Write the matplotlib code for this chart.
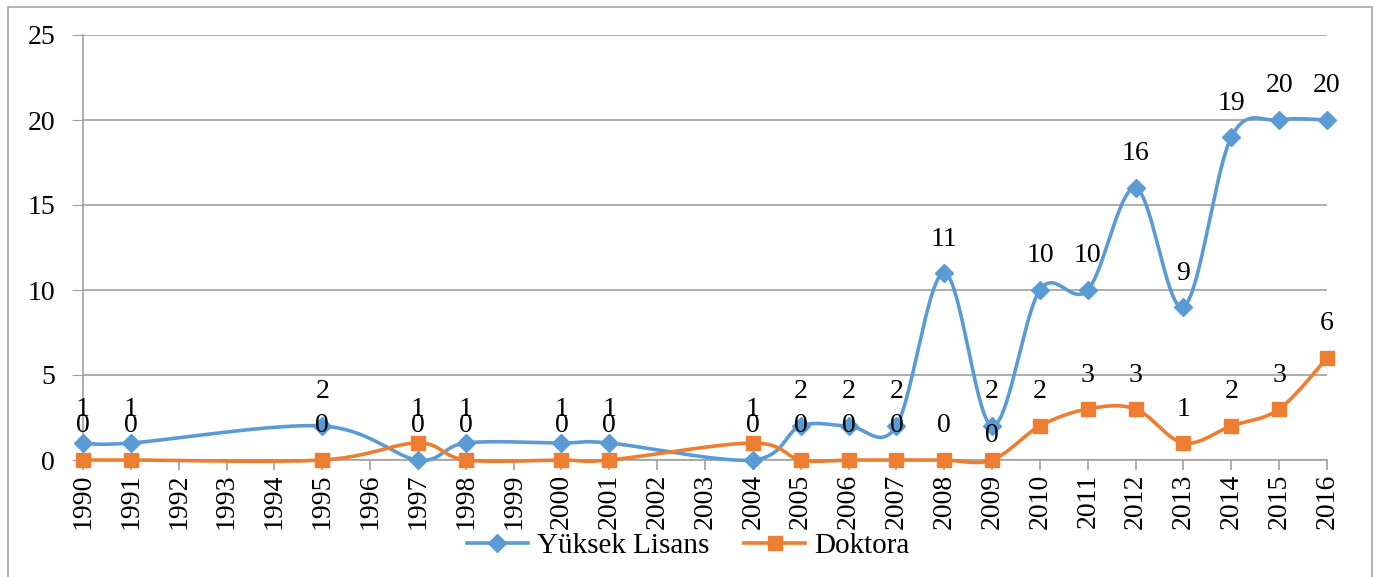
import numpy as np
import matplotlib
matplotlib.use("Agg")
import matplotlib.pyplot as plt
from matplotlib.patches import Rectangle
from matplotlib.lines import Line2D

years = [str(y) for y in range(1990, 2017)]
yuksek_lisans = [1, 1, None, None, None, 2, None, 0, 1, None, 1, 1, None, None, 0,
                 2, 2, 2, 11, 2, 10, 10, 16, 9, 19, 20, 20]
doktora = [0, 0, None, None, None, 0, None, 1, 0, None, 0, 0, None, None, 1,
           0, 0, 0, 0, 0, 2, 3, 3, 1, 2, 3, 6]
series_names = ["Yüksek Lisans", "Doktora"]
colors = ["#5B9BD5", "#ED7D31"]
markers = ["D", "s"]

plt.rcParams['font.family'] = ['Liberation Serif', 'DejaVu Serif']
FS = 20

W, H = 1375, 577
fig = plt.figure(figsize=(W / 100, H / 100), dpi=100)
fig.patches.append(Rectangle((8 / W, -0.02), (1372 - 8) / W, 1.02 - 7 / H,
                             transform=fig.transFigure, fill=False,
                             edgecolor="#A6A6A6", linewidth=1.2))
ax = fig.add_axes([83 / W, 1 - 460 / H, (1327 - 83) / W, (460 - 35) / H])


def smooth(xs, ys, n=40):
    pts = np.column_stack([xs, ys]).astype(float)
    m = len(pts)
    out = []
    for i in range(m - 1):
        p0 = pts[i - 1] if i > 0 else pts[i]
        p1 = pts[i]
        p2 = pts[i + 1]
        p3 = pts[i + 2] if i + 2 < m else pts[i + 1]
        c1 = p1 + (p2 - p0) / 6.0
        c2 = p2 - (p3 - p1) / 6.0
        t = np.linspace(0, 1, n)[:, None]
        b = ((1 - t) ** 3) * p1 + 3 * ((1 - t) ** 2) * t * c1 + 3 * (1 - t) * t ** 2 * c2 + t ** 3 * p2
        out.append(b if i == 0 else b[1:])
    return np.vstack(out)


label_offsets = {("Doktora", "2009"): 24}
all_series = [yuksek_lisans, doktora]
for k, (name, vals) in enumerate(zip(series_names, all_series)):
    idx = [i for i, v in enumerate(vals) if v is not None]
    vv = [vals[i] for i in idx]
    curve = smooth(idx, vv)
    ax.plot(curve[:, 0], curve[:, 1], color=colors[k], lw=2.6, clip_on=False,
            zorder=3 + k, solid_capstyle="round")
    ax.plot(idx, vv, linestyle="none", marker=markers[k], color=colors[k],
            markersize=9 if k == 0 else 10, clip_on=False, zorder=3 + k)
    for i, v in zip(idx, vv):
        off = label_offsets.get((name, years[i]), 34)
        ax.annotate(str(v), (i, v), xytext=(0, off), textcoords="offset pixels",
                    ha="center", va="center", fontsize=FS, color="#000000",
                    zorder=10, annotation_clip=False)

ax.set_xlim(0, len(years) - 1)
ax.set_ylim(0, 25)
ax.set_yticks(range(0, 26, 5))
ax.set_xticks(range(len(years)))
ax.set_xticklabels(years, rotation=90, fontsize=FS)
ax.tick_params(axis="y", labelsize=FS, length=8, color="#A0A0A0", pad=12)
ax.tick_params(axis="x", length=7, color="#A0A0A0", pad=3, width=1.2)
ax.grid(axis="y", color="#A0A0A0", lw=1.2)
ax.set_axisbelow(True)
for s in ["top", "right"]:
    ax.spines[s].set_visible(False)
for s in ["left", "bottom"]:
    ax.spines[s].set_color("#A0A0A0")
    ax.spines[s].set_linewidth(1.2)

handles = [Line2D([], [], color=colors[k], lw=2.6, marker=markers[k],
                  markersize=9 if k == 0 else 10) for k in range(2)]
fig.legend(handles, series_names, loc="center", bbox_to_anchor=(688 / W, 1 - 546 / H),
           ncol=2, frameon=False, fontsize=FS + 1, handlelength=2.1, columnspacing=1.2,
           handletextpad=0.3)

fig.savefig("out.png", dpi=100)
